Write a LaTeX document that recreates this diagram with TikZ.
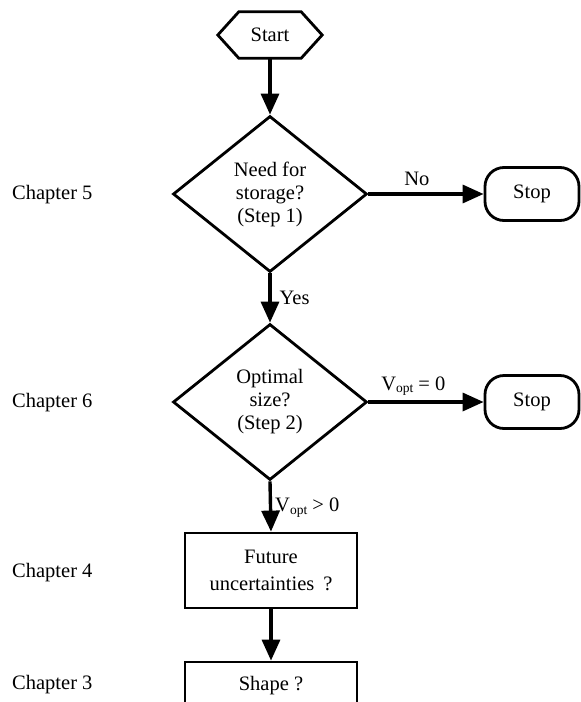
\documentclass[tikz,border=0pt]{standalone}
\usepackage{fontspec}
\setmainfont{Liberation Serif}
\usetikzlibrary{arrows.meta,shapes.geometric}
\newcommand{\Vsub}{V\raisebox{-0.25ex}{\fontsize{13.5pt}{14pt}\selectfont opt}}
\tikzset{
  txt/.style={font=\fontsize{20.5pt}{23pt}\selectfont},
  shp/.style={line width=2.8pt, line join=miter},
  arr/.style={line width=3.4pt, -{Triangle[length=21pt,width=18pt]}},
  dec/.style={txt, shape=diamond, shape aspect=1.244, inner sep=0pt, minimum width=194pt, minimum height=156pt, align=center, draw, shp},
  stopbox/.style={txt, draw, shp, rounded corners=19pt, minimum width=94pt, minimum height=53pt},
  procbox/.style={txt, draw, shp, minimum width=172pt, align=center},
  chap/.style={txt, anchor=west, inner sep=0pt},
  lab/.style={txt, inner sep=0pt}
}
\begin{document}
\begin{tikzpicture}[x=1pt,y=-1pt]
\useasboundingbox (0,0) rectangle (581,702);
% start hexagon
\node[txt, minimum width=104pt, minimum height=46pt, inner sep=0pt] (start) at (270,35) {Start};
\draw[shp] (start.west) -- ([xshift=21pt]start.north west) -- ([xshift=-21pt]start.north east)
  -- (start.east) -- ([xshift=-21pt]start.south east) -- ([xshift=21pt]start.south west) -- cycle;
% decisions
\node[dec] (d1) at (270,194) {Need for\\storage?\\(Step 1)};
\node[dec] (d2) at (270,402) {Optimal\\size?\\(Step 2)};
% stops
\node[stopbox] (s1) at (532,194) {Stop};
\node[stopbox] (s2) at (532,402) {Stop};
% process boxes
\node[procbox, minimum height=75pt] (p1) at (271,570.5) {Future\\[4pt]uncertainties\hspace{9pt}?};
\node[procbox, minimum height=48pt] (p2) at (271,686) {Shape ?};
% chapter labels
\node[chap] (c5) at (12,195) {Chapter 5};
\node[chap] (c6) at (12,403) {Chapter 6};
\node[chap] (c4) at (12,573) {Chapter 4};
\node[chap] (c3) at (12,685) {Chapter 3};
% connectors
\draw[arr] (start.south) -- (d1.north);
\draw[arr] (d1.east) -- node[lab, pos=0.42, yshift=15pt] {No} (s1.west);
\draw[arr] (d1.south) -- node[lab, pos=0.5, anchor=west, xshift=8pt] {Yes} (d2.north);
\draw[arr] (d2.east) -- node[lab, pos=0.39, yshift=16pt] {\Vsub\ = 0} (s2.west);
\draw[arr] (d2.south) -- node[lab, pos=0.52, anchor=west, xshift=3pt] {\Vsub\ > 0} (p1.north);
\draw[arr] (p1.south) -- (p2.north);
\end{tikzpicture}
\end{document}
